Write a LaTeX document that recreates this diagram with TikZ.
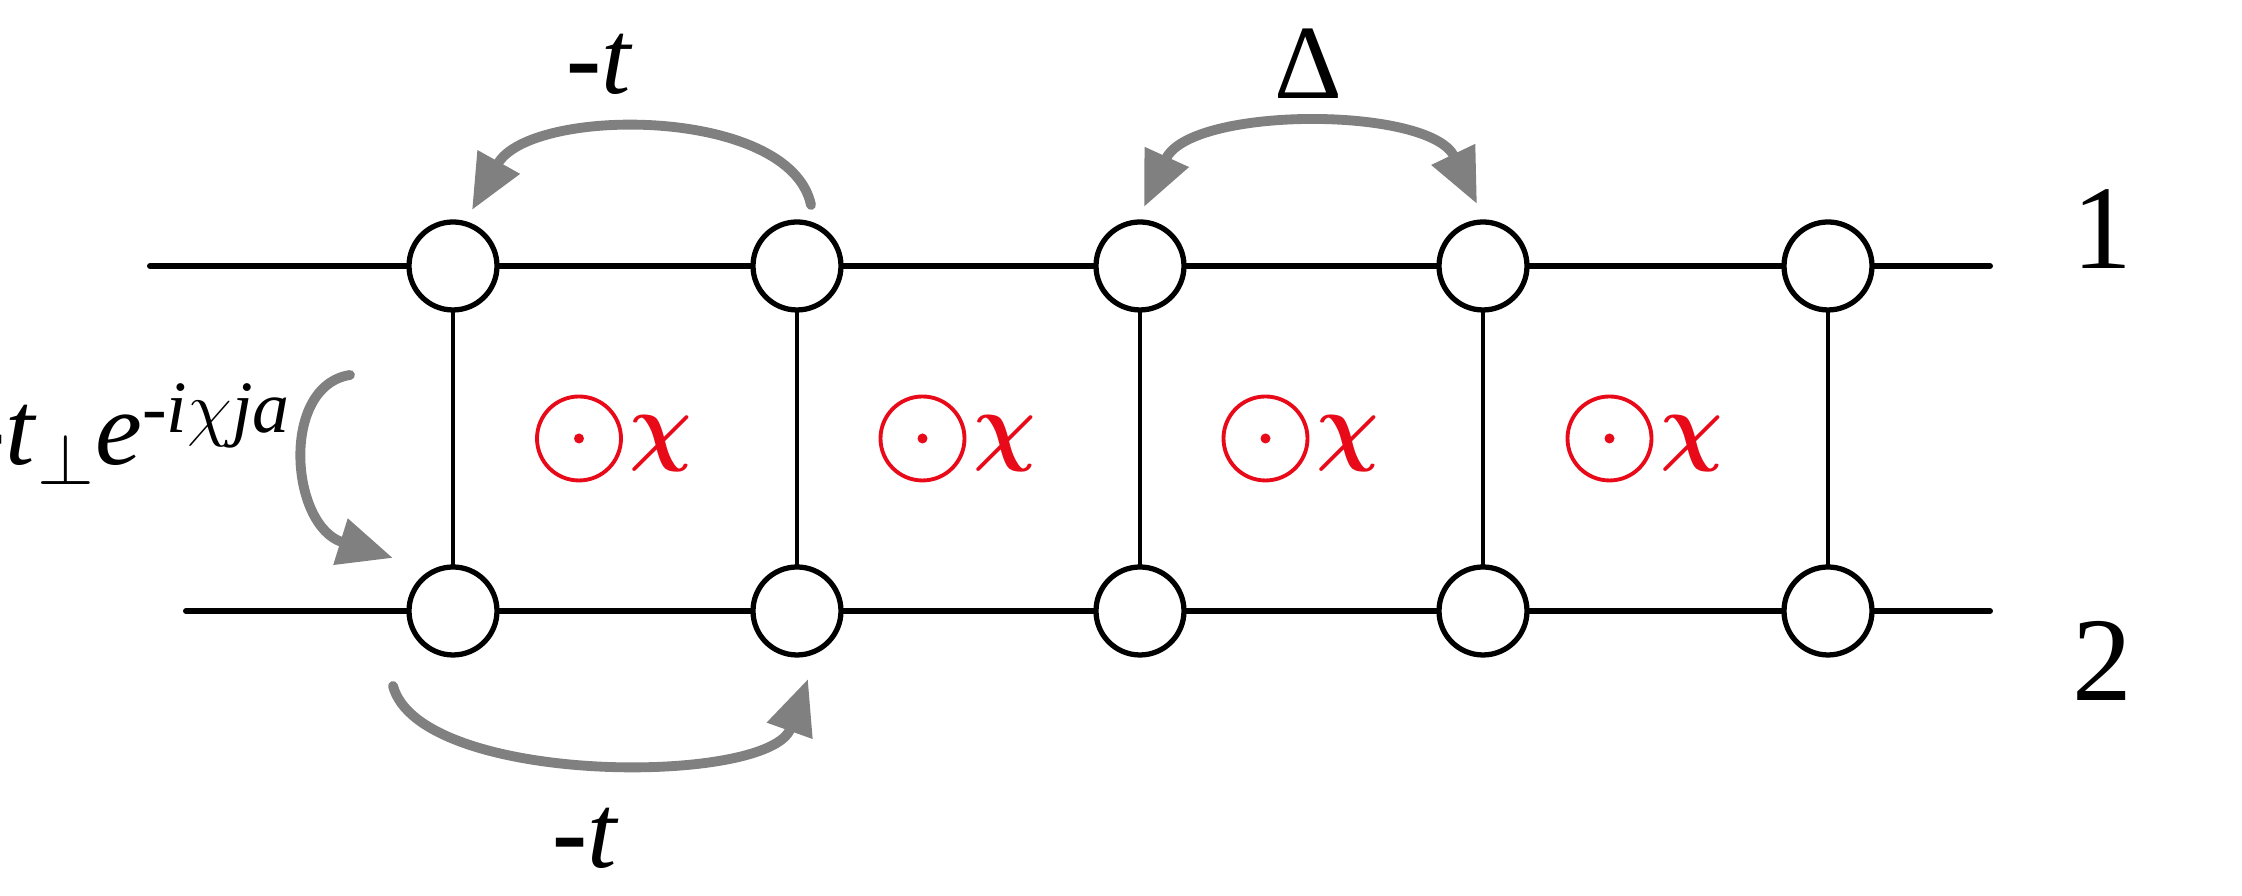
\documentclass[tikz,border=0pt]{standalone}
\usepackage{fontspec}
\setmainfont{Liberation Serif}
\usepackage{amsmath}
\usepackage{tikz}
\usetikzlibrary{arrows.meta, calc, positioning}

\definecolor{fluxred}{RGB}{232,10,25}
\definecolor{hopgray}{RGB}{128,128,128}

\tikzset{
    site/.style={draw, circle, line width=1.5pt, fill=white, minimum size=0.88cm, inner sep=0pt},
    leg/.style={line width=1.7pt, line cap=round},
    rung/.style={line width=1.4pt},
    hop/.style={draw=hopgray, line width=2.8pt, line cap=round,
        -{Triangle[length=0.55cm, width=0.46cm]}},
    biglabel/.style={font=\fontsize{30}{30}\selectfont, inner sep=0pt}
}

\begin{document}
\begin{tikzpicture}
        \useasboundingbox (0,0) rectangle (22.42,8.96);

        % Create sites of both legs
        \foreach \i/\x in {1/4.53, 2/7.97, 3/11.40, 4/14.83, 5/18.28}
        {
            \coordinate (p\i) at (\x,6.30);
            \coordinate (q\i) at (\x,2.85);
        }
        \coordinate (lu) at (1.50,6.30);
        \coordinate (ru) at (19.90,6.30);
        \coordinate (ld) at (1.86,2.85);
        \coordinate (rd) at (19.90,2.85);

        % Draw legs and rungs
        \draw[leg] (lu) -- (ru);
        \draw[leg] (ld) -- (rd);
        \foreach \i in {1,...,5}
            \draw[rung] (p\i) -- (q\i);

        \foreach \i in {1,...,5}
        {
            \node[site] (a\i) at (p\i) {};
            \node[site] (b\i) at (q\i) {};
        }

        % Flux through each plaquette
        \foreach \i/\j in {1/2, 2/3, 3/4, 4/5}
        {
            \coordinate (c\i) at ($(a\i)!0.5!(b\j)$);
            \draw[fluxred, line width=1.1pt] ([xshift=-0.46cm]c\i) circle (0.42cm);
            \fill[fluxred] ([xshift=-0.46cm]c\i) circle (0.05cm);
            \node[fluxred, font=\fontsize{44}{44}\selectfont, inner sep=0pt]
                (chi\i) at ([xshift=0.36cm,yshift=-0.05cm]c\i) {$\boldsymbol{\chi}$};
        }

        % Leg labels
        \node[biglabel, font=\fontsize{34}{34}\selectfont] (leg1) at (21.02,6.67) {1};
        \node[biglabel, font=\fontsize{34}{34}\selectfont] (leg2) at (21.02,2.35) {2};

        % Hopping arrows
        \coordinate (h1s) at (8.11,6.91);
        \coordinate (h1e) at (4.72,6.86);
        \draw[hop] (h1s) .. controls (7.9,7.9) and (5.3,7.9) .. (h1e);

        \coordinate (h2s) at (3.93,2.10);
        \coordinate (h2e) at (8.08,2.17);
        \draw[hop] (h2s) .. controls (4.2,1.1) and (7.7,1.1) .. (h2e);

        \coordinate (h3s) at (3.50,5.21);
        \coordinate (h3e) at (3.93,3.38);
        \draw[hop] (h3s) .. controls (2.8,5.1) and (2.9,3.7) .. (h3e);

        \coordinate (dls) at (11.44,6.89);
        \coordinate (dle) at (14.77,6.92);
        \draw[hop, {Triangle[length=0.55cm, width=0.46cm]}-{Triangle[length=0.55cm, width=0.46cm]}]
            (dls) .. controls (11.9,7.9) and (14.3,7.9) .. (dle);

        % Hopping amplitudes
        \node[biglabel] (ttop) at (6.00,8.32) {\textbf{-}\textit{t}};
        \node[biglabel] (delta) at (13.08,8.32) {Δ};
        \node[biglabel] (tbot) at (5.86,0.58) {\textbf{-}\textit{t}};
        \node[biglabel, anchor=east] (tperp) at (2.92,4.62)
            {\textbf{-}\textit{t}$_{\perp}$\textit{e}\textsuperscript{-\textit{i}$\chi$\textit{ja}}};
    \end{tikzpicture}
\end{document}
